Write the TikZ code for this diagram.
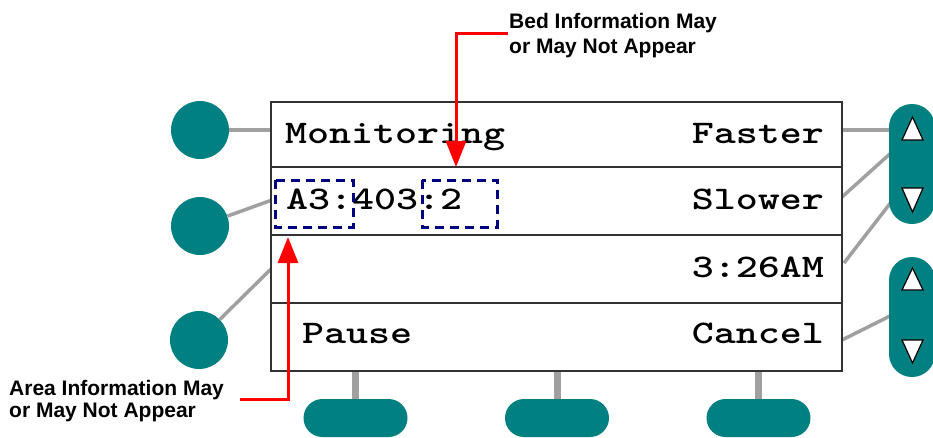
\documentclass[tikz,border=0pt]{standalone}
\usepackage{fontspec}
\newfontfamily\notefont{Liberation Sans}
\usetikzlibrary{arrows.meta}
\definecolor{btnteal}{RGB}{0,128,128}
\definecolor{wire}{RGB}{160,160,160}
\definecolor{boxnavy}{RGB}{0,0,128}
\definecolor{callred}{RGB}{255,0,0}
\definecolor{framecol}{RGB}{50,50,50}
\newcommand{\scrtext}[1]{\scalebox{1.27}[1]{#1}}
\begin{document}
\begin{tikzpicture}[x=1pt,y=-1pt,
  roundbtn/.style={circle,fill=btnteal,inner sep=0,minimum size=58pt},
  ovalbtn/.style={rectangle,fill=btnteal,inner sep=0,minimum width=104pt,minimum height=38pt,rounded corners=19pt},
  pillbtn/.style={rectangle,fill=btnteal,inner sep=0,minimum width=46pt,minimum height=120pt,rounded corners=23pt},
  wireline/.style={draw=wire,line width=3.5pt},
  stemline/.style={draw=wire,line width=7pt},
  screenbox/.style={rectangle,draw=framecol,fill=white,line width=2pt,inner sep=0,minimum width=571pt,minimum height=269pt},
  divider/.style={draw=framecol,line width=2pt},
  screentext/.style={inner sep=0,font=\ttfamily\bfseries\fontsize{33}{40}\selectfont},
  note/.style={inner sep=0,anchor=base west,font=\notefont\bfseries\fontsize{21}{24}\selectfont},
  infobox/.style={draw=boxnavy,line width=3pt,dash pattern=on 9pt off 6pt},
  callout/.style={draw=callred,line width=3pt,-{Triangle[width=20pt,length=26pt]}},
  arrowtri/.style={fill=white,draw=black,line width=1.2pt,line join=miter}
]
\useasboundingbox (0,0) rectangle (933,437);

% anchor coordinates on the screen edges
\coordinate (l1) at (272,130);
\coordinate (l2) at (272,200);
\coordinate (l3) at (272,268);
\coordinate (r1) at (841,130);
\coordinate (r2) at (842,197);
\coordinate (r3) at (844,263);
\coordinate (r4) at (842,340);
\coordinate (p1a) at (895,130);
\coordinate (p1b) at (892,152);
\coordinate (p1c) at (892,201);
\coordinate (p2a) at (892,315);
\coordinate (s1) at (355.5,369);
\coordinate (s2) at (557,369);
\coordinate (s3) at (758.5,369);

% buttons
\node[roundbtn] (c1) at (200,130) {};
\node[roundbtn] (c2) at (200,226) {};
\node[roundbtn] (c3) at (199,340) {};
\node[ovalbtn] (o1) at (355.5,418) {};
\node[ovalbtn] (o2) at (557,418) {};
\node[ovalbtn] (o3) at (758.5,418) {};

% connectors (behind pills)
\draw[wireline] (c1) -- (l1);
\draw[wireline] (c2) -- (l2);
\draw[wireline] (c3) -- (l3);
\draw[wireline] (r1) -- (p1a);
\draw[wireline] (r2) -- (p1b);
\draw[wireline] (r3) -- (p1c);
\draw[wireline] (r4) -- (p2a);
\draw[stemline] (s1) -- (o1.north);
\draw[stemline] (s2) -- (o2.north);
\draw[stemline] (s3) -- (o3.north);

\node[pillbtn] (pill1) at (912,164) {};
\node[pillbtn] (pill2) at (912,317) {};
\draw[arrowtri] (902,140) -- (912.5,117) -- (923,140) -- cycle;
\draw[arrowtri] (902,188) -- (912.5,212) -- (923,188) -- cycle;
\draw[arrowtri] (902,290) -- (912.5,268) -- (923,290) -- cycle;
\draw[arrowtri] (902,340) -- (912.5,363) -- (923,340) -- cycle;

% screen
\node[screenbox] (scr) at (556.5,236) {};
\draw[divider] (scr.west |- 0,167) -- (scr.east |- 0,167);
\draw[divider] (scr.west |- 0,235) -- (scr.east |- 0,235);
\draw[divider] (scr.west |- 0,303) -- (scr.east |- 0,303);

\node[screentext,anchor=base west] (mon) at (285,143) {\scrtext{Monitoring}};
\node[screentext,anchor=base east] (fast) at (824,143) {\scrtext{Faster}};
\node[screentext,anchor=base west] (loc) at (286,209) {\scrtext{A3:403:2}};
\node[screentext,anchor=base east] (slow) at (824,209) {\scrtext{Slower}};
\node[screentext,anchor=base east] (clock) at (824,277) {\scrtext{3:26AM}};
\node[screentext,anchor=base west] (pause) at (302,343) {\scrtext{Pause}};
\node[screentext,anchor=base east] (cancel) at (824,343) {\scrtext{Cancel}};

% dashed info boxes
\draw[infobox] (275,180) rectangle (353,227);
\draw[infobox] (422,180) rectangle (497,227);

% callouts
\node[note] (bed1) at (509,28) {Bed Information May};
\node[note] (bed2) at (509,53) {or May Not Appear};
\node[note] (area1) at (9,395) {Area Information May};
\node[note] (area2) at (9,417) {or May Not Appear};
\coordinate (bedstart) at (508,33);
\coordinate (bedtip) at (456,167);
\coordinate (areastart) at (240,399);
\coordinate (areatip) at (288,237);
\draw[callout] (bedstart) -| (bedtip);
\draw[callout] (areastart) -| (areatip);
\end{tikzpicture}
\end{document}
